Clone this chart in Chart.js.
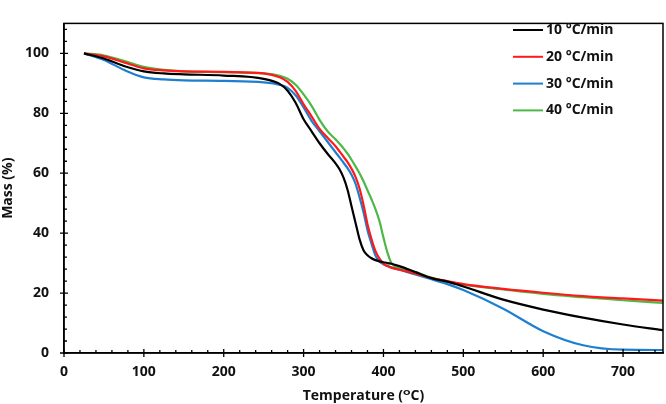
<!DOCTYPE html>
<html>
<head>
<meta charset="utf-8">
<script src="https://cdn.jsdelivr.net/npm/chart.js@4.4.0/dist/chart.umd.min.js"></script>
<style>
  html, body { margin: 0; padding: 0; background: #fff; }
  #wrap { width: 666px; height: 404px; }
</style>
</head>
<body>
<div id="wrap"><canvas id="tgaChart" width="666" height="404"></canvas></div>
<script>
// Temperature (°C) sample points shared by all curves
const temps = [25, 50, 75, 100, 125, 150, 200, 250, 270, 280, 290, 300, 310, 320, 330, 340, 345, 350, 355,
               360, 365, 370, 375, 380, 385, 390, 395, 400, 405, 410, 420, 440, 460, 480, 500, 550, 600, 650, 700, 750];

// Mass (%)
const mass10 = [100, 98.3, 95.8, 94, 93.3, 93, 92.6, 91.5, 89.8, 87.5, 83.5, 78, 74, 70, 66.5, 63.3, 61.3, 58.5, 54.5,
                49, 43.5, 38, 34.3, 32.6, 31.6, 31, 30.6, 30.3, 30, 29.8, 29, 27, 25, 23.8, 22.2, 17.8, 14.5, 11.8, 9.5, 7.6];
const mass20 = [100, 99, 97, 95, 94.3, 94, 93.8, 93.3, 92, 90.5, 87.5, 83, 79, 74.8, 71.8, 69, 67.3, 65.5, 63.7,
                61.5, 58.8, 55, 49.5, 43, 38, 34, 31.5, 29.8, 29, 28.5, 27.8, 26.5, 25, 24, 23, 21.4, 20.1, 19, 18.2, 17.5];
const mass30 = [100, 97.8, 94.5, 92, 91.3, 91, 90.8, 90.3, 89.5, 88.5, 86, 82, 77.5, 74, 70.5, 67, 65.3, 63.5, 61.7,
                59.5, 56.5, 52, 47, 41, 36.5, 32.5, 30.5, 29.6, 29, 28.5, 27.8, 26.2, 24.6, 23, 21, 14.8, 7.3, 2.6, 1.1, 1];
const mass40 = [100, 99.3, 97.5, 95.5, 94.5, 94, 93.7, 93.3, 92.5, 91.5, 89.5, 86.3, 82.5, 77.8, 74, 71.3, 69.8, 68.3, 66.5,
                64.5, 62.3, 60, 57.3, 54.3, 51.3, 48, 44, 38.5, 33.5, 30, 28.5, 27, 25.2, 23.8, 22.8, 21.2, 19.7, 18.6, 17.6, 16.7];

const seriesNames = ['10 °C/min', '20 °C/min', '30 °C/min', '40 °C/min'];
const seriesColors = ['#000000', '#ff1a1a', '#1e7fd0', '#4cb848'];

const FONT = '"Open Sans", "DejaVu Sans", sans-serif';

function toPoints(ys) {
    return temps.map((t, i) => ({ x: t, y: ys[i] }));
}

const datasets = [mass10, mass20, mass30, mass40].map((ys, i) => ({
    label: seriesNames[i],
    data: toPoints(ys),
    borderColor: seriesColors[i],
    borderWidth: 2.2,
    pointRadius: 0,
    fill: false,
    cubicInterpolationMode: 'monotone'
}));

// tick marks: major ones cross the axis, minor ones point inside; also closes the box
const axisDecor = {
    id: 'axisDecor',
    afterDraw(chart) {
        const ctx = chart.ctx;
        const a = chart.chartArea;
        const xs = chart.scales.x, ys = chart.scales.y;
        ctx.save();
        ctx.strokeStyle = '#000';
        ctx.lineWidth = 1.5;
        ctx.strokeRect(a.left, a.top, a.right - a.left, a.bottom - a.top);
        ctx.lineWidth = 1.3;
        ctx.beginPath();
        for (let v = 0; v <= 750; v += 20) {
            const px = xs.getPixelForValue(v);
            const major = v % 100 === 0;
            ctx.moveTo(px, a.bottom + (major ? 4 : 0));
            ctx.lineTo(px, a.bottom - (major ? 4 : 3));
        }
        for (let v = 0; v <= 110; v += 4) {
            const py = ys.getPixelForValue(v);
            const major = v % 20 === 0;
            ctx.moveTo(a.left - (major ? 4 : 0), py);
            ctx.lineTo(a.left + (major ? 4 : 3), py);
        }
        ctx.stroke();

        // legend inside the plot, top right
        ctx.font = 'bold 14px ' + FONT;
        ctx.textBaseline = 'middle';
        ctx.textAlign = 'left';
        chart.data.datasets.forEach((ds, i) => {
            const y = 30 + i * 26.8;
            ctx.strokeStyle = ds.borderColor;
            ctx.lineWidth = 2;
            ctx.beginPath();
            ctx.moveTo(513, y);
            ctx.lineTo(543, y);
            ctx.stroke();
            ctx.fillStyle = '#111';
            ctx.fillText(ds.label, 546, y);
        });
        ctx.restore();
    }
};

const ctx = document.getElementById('tgaChart').getContext('2d');
new Chart(ctx, {
    type: 'line',
    data: { datasets: datasets },
    options: {
        responsive: false,
        animation: false,
        layout: { padding: { top: 2, right: 3, left: 0, bottom: 0 } },
        plugins: {
            legend: { display: false },
            tooltip: { enabled: false }
        },
        scales: {
            x: {
                type: 'linear',
                min: 0,
                max: 750,
                afterFit(scale) { scale.height = 51; },
                afterBuildTicks(scale) {
                    scale.ticks = scale.ticks.filter(t => t.value % 100 === 0);
                },
                grid: { display: false, drawTicks: false },
                border: { display: true, color: '#000', width: 1.5 },
                ticks: {
                    stepSize: 100,
                    padding: 11,
                    color: '#111',
                    maxRotation: 0,
                    font: { family: FONT, size: 14, weight: 'bold' }
                },
                title: {
                    display: true,
                    text: 'Temperature (ᴼC)',
                    color: '#111',
                    padding: { top: 0, bottom: 0 },
                    font: { family: FONT, size: 14, weight: 'bold' }
                }
            },
            y: {
                min: 0,
                max: 110,
                afterFit(scale) { scale.width = 64; },
                afterBuildTicks(scale) {
                    scale.ticks = scale.ticks.filter(t => t.value % 20 === 0);
                },
                grid: { display: false, drawTicks: false },
                border: { display: true, color: '#000', width: 1.5 },
                ticks: {
                    stepSize: 20,
                    padding: 15,
                    color: '#111',
                    font: { family: FONT, size: 14, weight: 'bold' }
                },
                title: {
                    display: true,
                    text: 'Mass (%)',
                    color: '#111',
                    padding: { top: 0, bottom: 0 },
                    font: { family: FONT, size: 14, weight: 'bold' }
                }
            }
        }
    },
    plugins: [axisDecor]
});
</script>
</body>
</html>
